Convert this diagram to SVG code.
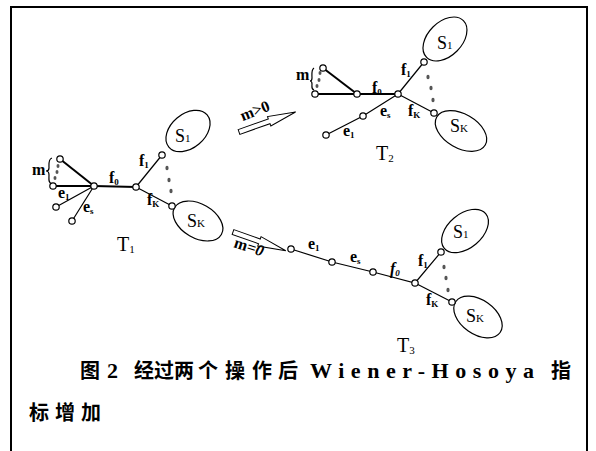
<svg xmlns="http://www.w3.org/2000/svg" width="596" height="451" viewBox="0 0 596 451">
<style>
.frame{fill:none;stroke:#000;stroke-width:2}
.thick{stroke:#000;stroke-width:2;fill:none}
.thin{stroke:#000;stroke-width:1.2;fill:none}
.node{fill:#fff;stroke:#000;stroke-width:1.2}
.dot{fill:#555}
.ell{fill:none;stroke:#000;stroke-width:1.2}
.lbl{font-family:"Liberation Serif",serif;font-weight:bold;font-size:16px;fill:#000}
.sub{font-size:9px}
.S{font-family:"Liberation Serif",serif;font-size:18px;fill:#000}
.Ssub{font-size:11px}
.T{font-family:"Liberation Serif",serif;font-size:20px;fill:#000}
.arrow{fill:#fff;stroke:#000;stroke-width:1}
.cjk{font-family:"Noto Sans CJK SC","Liberation Sans",sans-serif;font-weight:bold;font-size:20px;fill:#000}
.lat{font-family:"Liberation Serif",serif;font-weight:bold;font-size:22px;fill:#000}
</style>
<path class="frame" d="M11,451 V7 H587 V451"/>

<g id="connectors">
  <!-- T1 -->
  <line class="thick" x1="60" y1="159" x2="94" y2="186"/>
  <line class="thick" x1="53" y1="186" x2="94" y2="186"/>
  <line class="thin" x1="56" y1="207" x2="94" y2="186"/>
  <line class="thin" x1="72" y1="221" x2="94" y2="186"/>
  <line class="thick" x1="94" y1="186" x2="136" y2="187"/>
  <line class="thin" x1="136" y1="187" x2="162" y2="155"/>
  <line class="thin" x1="136" y1="187" x2="172" y2="206"/>
  <!-- T2 -->
  <line class="thick" x1="323" y1="68" x2="357" y2="94"/>
  <line class="thick" x1="315" y1="94" x2="398" y2="94"/>
  <line class="thin" x1="398" y1="94" x2="424" y2="62"/>
  <line class="thin" x1="398" y1="94" x2="434" y2="113"/>
  <polyline class="thin" points="398,94 363,116 326,135"/>
  <!-- T3 -->
  <polyline class="thin" points="291,249 332,262 373,272 415,283 441,252"/>
  <line class="thin" x1="415" y1="283" x2="452" y2="302"/>
</g>

<g id="T1">
  <ellipse class="ell" cx="188" cy="131" rx="25" ry="17" transform="rotate(-40 188 131)"/>
  <ellipse class="ell" cx="198" cy="221" rx="27" ry="17" transform="rotate(30 198 221)"/>
  <path class="thin" d="M52,158 C48,159 49,165 49,168 C49,170 48,171 46,171 C48,171 49,172 49,175 C49,179 48,183 52,184" stroke-width="1"/>
  <ellipse class="dot" cx="58" cy="166" rx="1.5" ry="2"/>
  <ellipse class="dot" cx="57" cy="172" rx="1.5" ry="2"/>
  <ellipse class="dot" cx="55" cy="178" rx="1.5" ry="2"/>
  <ellipse class="dot" cx="167" cy="168" rx="1.6" ry="2.3"/>
  <ellipse class="dot" cx="169" cy="180" rx="1.6" ry="2.3"/>
  <ellipse class="dot" cx="171" cy="191" rx="1.6" ry="2.3"/>
  <circle class="node" cx="60" cy="159" r="3.2"/>
  <circle class="node" cx="53" cy="186" r="3.2"/>
  <circle class="node" cx="94" cy="186" r="3.2"/>
  <circle class="node" cx="56" cy="207" r="3.2"/>
  <circle class="node" cx="72" cy="221" r="3.2"/>
  <circle class="node" cx="136" cy="187" r="3.2"/>
  <circle class="node" cx="162" cy="155" r="3.2"/>
  <circle class="node" cx="172" cy="206" r="3.2"/>
  <text class="lbl" x="32" y="175">m</text>
  <text class="lbl" x="58" y="198">e<tspan class="sub" dy="2">1</tspan></text>
  <text class="lbl" x="83" y="212">e<tspan class="sub" dy="2">s</tspan></text>
  <text class="lbl" x="109" y="183">f<tspan class="sub" dy="2">0</tspan></text>
  <text class="lbl" x="139" y="166">f<tspan class="sub" dy="2">1</tspan></text>
  <text class="lbl" x="147" y="205">f<tspan class="sub" dy="2">K</tspan></text>
  <text class="S" x="175" y="142">S<tspan class="Ssub">1</tspan></text>
  <text class="S" x="187" y="227">S<tspan class="Ssub">K</tspan></text>
  <text class="T" x="117" y="251">T<tspan class="Ssub" dy="2">1</tspan></text>
</g>

<g id="arrow-m-gt-0">
  <polygon class="arrow" transform="translate(239,132) rotate(-19.5)" points="0,-2.5 32,-2.5 32,-5 60,0 32,5 32,2.5 0,2.5"/>
  <text class="lbl" x="255" y="116" text-anchor="middle" transform="rotate(-22 255 111)">m&gt;0</text>
</g>

<g id="T2">
  <ellipse class="ell" cx="445" cy="39" rx="26" ry="17" transform="rotate(-45 445 39)"/>
  <ellipse class="ell" cx="461" cy="131" rx="28" ry="17" transform="rotate(30 461 131)"/>
  <path class="thin" d="M314,68 C311,70 312,75 312,78 C312,80 311,81 310,81 C311,81 312,82 312,84 C312,87 311,89 314,90" stroke-width="1"/>
  <ellipse class="dot" cx="320" cy="73" rx="1.5" ry="2"/>
  <ellipse class="dot" cx="319" cy="80" rx="1.5" ry="2"/>
  <ellipse class="dot" cx="317" cy="86" rx="1.5" ry="2"/>
  <ellipse class="dot" cx="428" cy="77" rx="1.6" ry="2.3"/>
  <ellipse class="dot" cx="431" cy="88" rx="1.6" ry="2.3"/>
  <ellipse class="dot" cx="433" cy="100" rx="1.6" ry="2.3"/>
  <circle class="node" cx="323" cy="68" r="3.2"/>
  <circle class="node" cx="315" cy="94" r="3.2"/>
  <circle class="node" cx="357" cy="94" r="3.2"/>
  <circle class="node" cx="398" cy="94" r="3.2"/>
  <circle class="node" cx="424" cy="62" r="3.2"/>
  <circle class="node" cx="434" cy="113" r="3.2"/>
  <circle class="node" cx="363" cy="116" r="3.2"/>
  <circle class="node" cx="326" cy="135" r="3.2"/>
  <text class="lbl" x="296" y="80">m</text>
  <text class="lbl" x="372" y="93">f<tspan class="sub" dy="2">0</tspan></text>
  <text class="lbl" x="401" y="75">f<tspan class="sub" dy="2">1</tspan></text>
  <text class="lbl" x="408" y="116">f<tspan class="sub" dy="2">K</tspan></text>
  <text class="lbl" x="380" y="116">e<tspan class="sub" dy="2">s</tspan></text>
  <text class="lbl" x="343" y="136">e<tspan class="sub" dy="2">1</tspan></text>
  <text class="S" x="437" y="49">S<tspan class="Ssub">1</tspan></text>
  <text class="S" x="450" y="132">S<tspan class="Ssub">K</tspan></text>
  <text class="T" x="376" y="160">T<tspan class="Ssub" dy="2">2</tspan></text>
</g>

<g id="arrow-m-eq-0">
  <polygon class="arrow" transform="translate(233,232) rotate(19.5)" points="0,-2.5 28,-2.5 28,-5 56,0 28,5 28,2.5 0,2.5"/>
  <text class="lbl" x="249" y="252" text-anchor="middle" transform="rotate(18 249 247)">m=<tspan font-style="italic">0</tspan></text>
</g>

<g id="T3">
  <ellipse class="ell" cx="465" cy="231" rx="27" ry="17" transform="rotate(-40 465 231)"/>
  <ellipse class="ell" cx="478" cy="317" rx="27" ry="17" transform="rotate(35 478 317)"/>
  <ellipse class="dot" cx="444" cy="267" rx="1.6" ry="2.3"/>
  <ellipse class="dot" cx="446" cy="278" rx="1.6" ry="2.3"/>
  <ellipse class="dot" cx="448" cy="290" rx="1.6" ry="2.3"/>
  <circle class="node" cx="291" cy="249" r="3.2"/>
  <circle class="node" cx="332" cy="262" r="3.2"/>
  <circle class="node" cx="373" cy="272" r="3.2"/>
  <circle class="node" cx="415" cy="283" r="3.2"/>
  <circle class="node" cx="441" cy="252" r="3.2"/>
  <circle class="node" cx="452" cy="302" r="3.2"/>
  <text class="lbl" x="308" y="249">e<tspan class="sub" dy="2">1</tspan></text>
  <text class="lbl" x="350" y="262">e<tspan class="sub" dy="2">s</tspan></text>
  <text class="lbl" x="390" y="274" font-style="italic">f<tspan class="sub" dy="2">0</tspan></text>
  <text class="lbl" x="418" y="266">f<tspan class="sub" dy="2">1</tspan></text>
  <text class="lbl" x="426" y="305">f<tspan class="sub" dy="2">K</tspan></text>
  <text class="S" x="453" y="238">S<tspan class="Ssub">1</tspan></text>
  <text class="S" x="466" y="322">S<tspan class="Ssub">K</tspan></text>
  <text class="T" x="397" y="352">T<tspan class="Ssub" dy="2">3</tspan></text>
</g>

<g id="caption">
  <text class="cjk" x="80" y="378">图</text>
  <text class="lat" x="107" y="378">2</text>
  <text class="cjk" x="134" y="378">经过两</text>
  <text class="cjk" x="198" y="378">个</text>
  <text class="cjk" x="225" y="378">操</text>
  <text class="cjk" x="252" y="378">作</text>
  <text class="cjk" x="278" y="378">后</text>
  <text class="lat" x="310" y="378" textLength="224" lengthAdjust="spacing">Wiener-Hosoya</text>
  <text class="cjk" x="551" y="378">指</text>
  <text class="cjk" x="29" y="420">标</text>
  <text class="cjk" x="55" y="420">增</text>
  <text class="cjk" x="81" y="420">加</text>
</g>
</svg>
